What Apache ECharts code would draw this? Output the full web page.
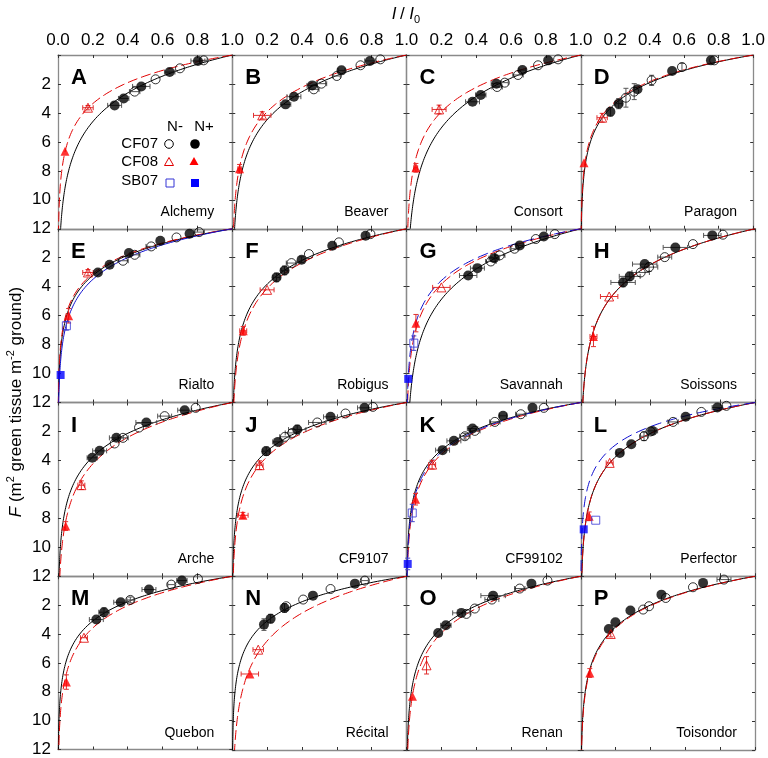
<!DOCTYPE html>
<html><head><meta charset="utf-8">
<script src="https://cdn.jsdelivr.net/npm/echarts@6/dist/echarts.min.js"></script>
<style>html,body{margin:0;padding:0;background:#fff}#c{width:768px;height:758px}</style>
</head><body><div id="c"></div>
<script>
// ---------- DATA ----------
const panelLetters = ['A','B','C','D','E','F','G','H','I','J','K','L','M','N','O','P'];
const cultivars = ['Alchemy','Beaver','Consort','Paragon','Rialto','Robigus','Savannah','Soissons',
                   'Arche','CF9107','CF99102','Perfector','Quebon','Récital','Renan','Toisondor'];
const xTickLabels = ['0.0','0.2','0.4','0.6','0.8','1.0'];
const yTickLabels = ['','2','4','6','8','10','12'];

// points: [I/I0, F, xError, yError]
const cf07NplusPts = [
  [[0.325,3.48,0.04,0],[0.377,3.0,0.03,0],[0.478,2.17,0.05,0],[0.641,1.18,0.03,0],[0.803,0.41,0.04,0]],
  [[0.306,3.41,0.03,0],[0.354,2.88,0.04,0],[0.459,2.10,0.03,0],[0.627,1.06,0.02,0],[0.79,0.41,0.03,0]],
  [[0.379,3.23,0.04,0],[0.426,2.76,0.03,0],[0.516,1.98,0.03,0],[0.665,1.04,0.02,0],[0.813,0.37,0,0]],
  [[0.172,3.92,0,0.3],[0.22,3.36,0.02,0.35],[0.329,2.37,0,0],[0.53,1.11,0,0],[0.755,0.37,0,0]],
  [[0.229,3.02,0,0],[0.296,2.49,0,0],[0.407,1.68,0,0],[0.587,0.83,0,0],[0.755,0.35,0,0]],
  [[0.254,3.36,0.02,0.3],[0.30,2.88,0.02,0.3],[0.398,2.14,0,0.2],[0.574,1.18,0,0],[0.765,0.48,0,0]],
  [[0.354,3.23,0.05,0],[0.407,2.72,0.04,0],[0.503,2.03,0.03,0],[0.65,1.15,0.02,0],[0.788,0.53,0,0]],
  [[0.243,3.71,0.07,0.3],[0.281,3.29,0.06,0.3],[0.367,2.44,0.07,0],[0.543,1.29,0.07,0],[0.755,0.46,0.05,0]],
  [[0.197,3.82,0.03,0],[0.239,3.34,0.04,0],[0.335,2.44,0.04,0],[0.507,1.38,0.06,0],[0.727,0.53,0.04,0]],
  [[0.195,3.36,0.02,0.3],[0.262,2.72,0.03,0],[0.373,1.87,0.05,0.3],[0.564,0.99,0.04,0],[0.759,0.37,0.04,0]],
  [[0.207,3.29,0.04,0],[0.272,2.65,0.04,0],[0.379,1.80,0.03,0],[0.554,0.92,0.02,0],[0.723,0.37,0,0]],
  [[0.224,3.48,0.02,0],[0.29,2.88,0,0],[0.411,1.96,0.03,0],[0.602,0.99,0,0],[0.784,0.35,0.03,0]],
  [[0.22,3.0,0.04,0],[0.264,2.49,0.03,0.3],[0.36,1.80,0.04,0],[0.522,0.92,0.04,0],[0.711,0.30,0.03,0]],
  [[0.182,3.34,0,0.4],[0.22,2.93,0,0.3],[0.30,2.19,0,0.3],[0.463,1.34,0,0],[0.704,0.51,0,0]],
  [[0.182,3.92,0,0],[0.226,3.39,0.03,0],[0.315,2.53,0.05,0],[0.497,1.34,0.07,0],[0.717,0.51,0,0]],
  [[0.161,3.64,0,0],[0.199,3.18,0,0],[0.285,2.37,0,0],[0.463,1.27,0,0],[0.702,0.46,0,0]]
];
const cf07NminusPts = [
  [[0.44,2.53,0.03,0],[0.56,1.68,0,0],[0.70,0.92,0,0],[0.836,0.37,0.02,0]],
  [[0.468,2.37,0.03,0],[0.512,1.98,0.03,0],[0.60,1.45,0.02,0],[0.736,0.71,0,0],[0.85,0.30,0,0]],
  [[0.52,2.21,0.03,0],[0.564,1.91,0.02,0],[0.64,1.38,0.03,0],[0.755,0.71,0,0],[0.87,0.30,0,0]],
  [[0.262,2.95,0,0.65],[0.31,2.53,0,0.55],[0.411,1.75,0,0.35],[0.587,0.83,0,0.25],[0.774,0.37,0,0]],
  [[0.373,2.21,0.03,0],[0.44,1.80,0.03,0],[0.535,1.22,0.03,0],[0.68,0.60,0,0],[0.81,0.23,0.03,0]],
  [[0.34,2.37,0.03,0],[0.44,1.75,0,0],[0.612,0.94,0,0],[0.793,0.37,0,0]],
  [[0.484,2.26,0.03,0],[0.535,1.84,0.03,0],[0.62,1.38,0.02,0],[0.742,0.71,0,0],[0.851,0.37,0,0]],
  [[0.344,3.02,0.05,0],[0.392,2.65,0.05,0.3],[0.482,1.96,0.04,0],[0.644,1.06,0,0],[0.816,0.41,0,0]],
  [[0.325,2.83,0,0],[0.373,2.44,0.03,0],[0.465,1.73,0,0],[0.612,0.94,0.04,0],[0.79,0.37,0,0]],
  [[0.302,2.37,0.03,0],[0.344,2.10,0.04,0],[0.488,1.38,0.05,0],[0.65,0.76,0,0],[0.807,0.30,0,0]],
  [[0.335,2.33,0.03,0.2],[0.392,1.96,0.03,0],[0.507,1.34,0.03,0],[0.656,0.81,0.03,0],[0.788,0.37,0,0]],
  [[0.363,2.33,0.02,0.3],[0.40,2.0,0,0],[0.53,1.34,0.03,0],[0.692,0.65,0,0],[0.836,0.23,0,0]],
  [[0.415,1.64,0.02,0.2],[0.65,0.58,0.02,0],[0.803,0.18,0,0]],
  [[0.31,2.07,0,0],[0.407,1.61,0,0],[0.564,0.88,0,0],[0.761,0.30,0.02,0]],
  [[0.344,2.6,0,0],[0.392,2.23,0,0],[0.49,1.61,0.04,0],[0.65,0.85,0.03,0],[0.809,0.30,0,0]],
  [[0.358,2.30,0,0],[0.392,2.07,0,0],[0.488,1.50,0,0],[0.644,0.76,0,0],[0.822,0.23,0.04,0]]
];
const cf08NminusPts = [
  [[0.172,3.64,0.03,0.15]],[[0.172,4.17,0.05,0.25]],[[0.187,3.76,0.04,0.3]],[[0.124,4.33,0.03,0.3]],
  [[0.172,3.02,0.03,0.2]],[[0.20,4.22,0.04,0]],[[0.20,4.05,0.05,0]],[[0.163,4.68,0.05,0]],
  [[0.134,5.71,0.02,0.3]],[[0.157,4.33,0.02,0.3]],[[0.147,4.29,0.02,0.3]],[[0.166,4.17,0.02,0]],
  [[0.149,4.26,0.02,0]],[[0.149,5.07,0.03,0]],[[0.115,6.15,0,0.6]],[[0.172,3.99,0,0.2]]
];
const cf08NplusPts = [
  [[0.04,6.64,0,0]],[[0.042,7.86,0.01,0.3]],[[0.054,7.79,0.01,0.3]],[[0.019,7.44,0,0]],
  [[0.061,6.01,0,0.5]],[[0.063,7.05,0.02,0.3]],[[0.054,6.52,0,0.6]],[[0.073,7.44,0.02,0.7]],
  [[0.044,8.53,0,0.3]],[[0.061,7.79,0.03,0.2]],[[0.052,6.68,0,0.4]],[[0.048,7.86,0,0.3]],
  [[0.048,7.33,0,0.5]],[[0.101,6.75,0.05,0]],[[0.034,8.29,0,0]],[[0.052,6.68,0,0.3]]
];
const sb07NminusPts = [[],[],[],[],[[0.048,6.70,0,0.3]],[],[[0.042,7.90,0,0.5]],[],
  [],[],[[0.033,7.63,0,0.6]],[[0.086,8.13,0,0]],[],[],[],[]];
const sb07NplusPts = [[],[],[],[],[[0.015,10.1,0,0]],[],[[0.01,10.37,0,0]],[],
  [],[],[[0.007,11.15,0,0.4]],[[0.017,8.76,0,0]],[],[],[],[]];

// fitted extinction coefficients k (F = -ln(I/I0)/k)
const kCF07 = [0.35,0.36,0.32,0.48,0.50,0.42,0.33,0.37,0.43,0.48,0.49,0.43,0.52,0.52,0.45,0.46];
const kCF08 = [0.48,0.41,0.41,0.50,0.52,0.39,0.42,0.37,0.38,0.43,0.45,0.43,0.45,0.36,0.41,0.45];
const kSB07 = [null,null,null,null,0.46,null,0.45,null,null,null,0.47,0.55,null,null,null,null];

// ---------- CHART ----------
const FF = '"Liberation Sans", Arial, Helvetica, sans-serif';
const L0 = 58, T0 = 55, PW = 174.25, PH = 173.75;
const grids = [], xAxes = [], yAxes = [], series = [], graphics = [];

function beerCurve(k) {
  const d = [];
  for (let j = 0; j <= 240; j++) { const F = j * 0.05; d.push([Math.exp(-k * F), F]); }
  return d;
}
function errSeries(i, pts, color) {
  return {
    type: 'custom', xAxisIndex: 2 * i, yAxisIndex: 2 * i, silent: true, z: 4,
    data: pts,
    renderItem: function (p, api) {
      const x = api.value(0), y = api.value(1), xe = api.value(2), ye = api.value(3);
      const ch = [], cap = 2.5, st = { stroke: color, lineWidth: 1 };
      if (xe > 0) {
        const a = api.coord([x - xe, y]), b = api.coord([x + xe, y]);
        ch.push({ type: 'line', shape: { x1: a[0], y1: a[1], x2: b[0], y2: b[1] }, style: st });
        ch.push({ type: 'line', shape: { x1: a[0], y1: a[1] - cap, x2: a[0], y2: a[1] + cap }, style: st });
        ch.push({ type: 'line', shape: { x1: b[0], y1: b[1] - cap, x2: b[0], y2: b[1] + cap }, style: st });
      }
      if (ye > 0) {
        const a = api.coord([x, y - ye]), b = api.coord([x, y + ye]);
        ch.push({ type: 'line', shape: { x1: a[0], y1: a[1], x2: b[0], y2: b[1] }, style: st });
        ch.push({ type: 'line', shape: { x1: a[0] - cap, y1: a[1], x2: a[0] + cap, y2: a[1] }, style: st });
        ch.push({ type: 'line', shape: { x1: b[0] - cap, y1: b[1], x2: b[0] + cap, y2: b[1] }, style: st });
      }
      return { type: 'group', children: ch };
    }
  };
}
function scat(i, pts, symbol, size, itemStyle) {
  return { type: 'scatter', xAxisIndex: 2 * i, yAxisIndex: 2 * i, symbol: symbol, symbolSize: size,
    silent: true, z: 6, data: pts.map(p => [p[0], p[1]]), itemStyle: itemStyle };
}
function lineS(i, k, color, type, z) {
  return { type: 'line', xAxisIndex: 2 * i, yAxisIndex: 2 * i, showSymbol: false, silent: true, z: z,
    data: beerCurve(k), lineStyle: { color: color, width: 1, type: type } };
}

for (let i = 0; i < 16; i++) {
  const r = Math.floor(i / 4), c = i % 4;
  const left = L0 + c * PW, top = T0 + r * PH;
  grids.push({ left: left, top: top, width: PW, height: PH });
  const axisLine = { show: true, onZero: false, lineStyle: { color: '#8a8a8a', width: 1.3 } };
  const tick = { show: true, inside: true, length: 3, lineStyle: { color: '#333', width: 1 } };
  const base = { gridIndex: i, type: 'value', axisLine: axisLine, axisTick: tick, splitLine: { show: false } };
  xAxes.push(Object.assign({}, base, { position: 'top', min: 0, max: 1, interval: 0.2,
    axisLabel: { show: r === 0, fontSize: 17, color: '#000', margin: 6, fontFamily: FF,
      formatter: v => { const idx = Math.round(v / 0.2); return (c > 0 && idx === 0) ? '' : xTickLabels[idx]; } } }));
  xAxes.push(Object.assign({}, base, { position: 'bottom', min: 0, max: 1, interval: 0.2, axisLabel: { show: false } }));
  yAxes.push(Object.assign({}, base, { position: 'left', inverse: true, min: 0, max: 12, interval: 2,
    axisLabel: { show: c === 0, fontSize: 17, color: '#000', margin: 7, fontFamily: FF,
      formatter: v => yTickLabels[Math.round(v / 2)] } }));
  yAxes.push(Object.assign({}, base, { position: 'right', inverse: true, min: 0, max: 12, interval: 2, axisLabel: { show: false } }));

  // curves
  series.push(lineS(i, kCF07[i], '#000', 'solid', 2));
  series.push(lineS(i, kCF08[i], '#e00000', [10, 4], 2));
  if (kSB07[i] !== null) series.push(lineS(i, kSB07[i], '#1010d0', i === 4 ? 'solid' : [11, 5], 2));

  // error bars
  series.push(errSeries(i, cf07NplusPts[i], '#555'));
  series.push(errSeries(i, cf07NminusPts[i], '#555'));
  series.push(errSeries(i, cf08NminusPts[i], '#e03030'));
  series.push(errSeries(i, cf08NplusPts[i], '#e03030'));
  series.push(errSeries(i, sb07NminusPts[i], '#4444cc'));
  series.push(errSeries(i, sb07NplusPts[i], '#4444cc'));

  // symbols
  series.push(scat(i, cf07NminusPts[i], 'circle', 9, { color: 'rgba(255,255,255,0)', borderColor: '#000', borderWidth: 1 }));
  series.push(scat(i, cf07NplusPts[i], 'circle', 10, { color: '#000' }));
  series.push(scat(i, cf08NminusPts[i], 'triangle', 9, { color: 'rgba(255,255,255,0)', borderColor: '#e00000', borderWidth: 1 }));
  series.push(scat(i, cf08NplusPts[i], 'triangle', 9, { color: '#ff0000' }));
  series.push(scat(i, sb07NminusPts[i], 'rect', 8, { color: 'rgba(255,255,255,0)', borderColor: '#3535d5', borderWidth: 1 }));
  series.push(scat(i, sb07NplusPts[i], 'rect', 8, { color: '#0000ff' }));

  // panel letter & cultivar
  graphics.push({ type: 'text', left: left + 13, top: top + 12, z: 10, silent: true,
    style: { text: panelLetters[i], font: 'bold 22px ' + FF, fill: '#000' } });
  graphics.push({ type: 'text', x: left + PW - 18, y: top + PH - 17, z: 10, silent: true,
    style: { text: cultivars[i], font: '14px ' + FF, fill: '#000', align: 'right', verticalAlign: 'middle' } });
}

// legend (panel A)
const lg = { font: '15px ' + FF, fill: '#000' };
graphics.push({ type: 'text', x: 175, y: 127, style: Object.assign({ text: 'N-', align: 'center', verticalAlign: 'middle' }, lg) });
graphics.push({ type: 'text', x: 204, y: 127, style: Object.assign({ text: 'N+', align: 'center', verticalAlign: 'middle' }, lg) });
graphics.push({ type: 'text', x: 158, y: 144, style: Object.assign({ text: 'CF07', align: 'right', verticalAlign: 'middle' }, lg) });
graphics.push({ type: 'text', x: 158, y: 162, style: Object.assign({ text: 'CF08', align: 'right', verticalAlign: 'middle' }, lg) });
graphics.push({ type: 'text', x: 158, y: 181, style: Object.assign({ text: 'SB07', align: 'right', verticalAlign: 'middle' }, lg) });
graphics.push({ type: 'circle', shape: { cx: 169, cy: 144, r: 4.3 }, style: { fill: 'none', stroke: '#000', lineWidth: 1 } });
graphics.push({ type: 'circle', shape: { cx: 195, cy: 144, r: 4.8 }, style: { fill: '#000' } });
graphics.push({ type: 'polygon', shape: { points: [[169, 157.5], [173.5, 165.5], [164.5, 165.5]] }, style: { fill: 'none', stroke: '#e00000', lineWidth: 1 } });
graphics.push({ type: 'polygon', shape: { points: [[194, 157], [198.5, 165], [189.5, 165]] }, style: { fill: '#ff0000' } });
graphics.push({ type: 'rect', shape: { x: 166, y: 179, width: 8, height: 8 }, style: { fill: 'none', stroke: '#3535d5', lineWidth: 1 } });
graphics.push({ type: 'rect', shape: { x: 191, y: 179, width: 8, height: 8 }, style: { fill: '#0000ff' } });

// axis titles
graphics.push({ type: 'text', x: 406, y: 14, silent: true,
  style: { text: '{i|I} {n|/ }{i|I}{sub|0}', align: 'center', verticalAlign: 'middle',
    rich: { i: { font: 'italic 17px ' + FF, lineHeight: 22 }, n: { font: '17px ' + FF, lineHeight: 22 },
            sub: { font: '11px ' + FF, lineHeight: 10, verticalAlign: 'bottom' } } } });
graphics.push({ type: 'text', x: 16, y: 402, rotation: Math.PI / 2, silent: true,
  style: { text: '{i|F}{n| (m}{s|2}{n| green tissue m}{s|-2}{n| ground)}', align: 'center', verticalAlign: 'middle',
    rich: { i: { font: 'italic 17px ' + FF, lineHeight: 22 }, n: { font: '17px ' + FF, lineHeight: 22 },
            s: { font: '11px ' + FF, lineHeight: 12, verticalAlign: 'top' } } } });

const chart = echarts.init(document.getElementById('c'), null, { renderer: 'canvas' });
chart.setOption({ animation: false, backgroundColor: '#fff', grid: grids, xAxis: xAxes, yAxis: yAxes,
  series: series, graphic: graphics });
</script></body></html>
